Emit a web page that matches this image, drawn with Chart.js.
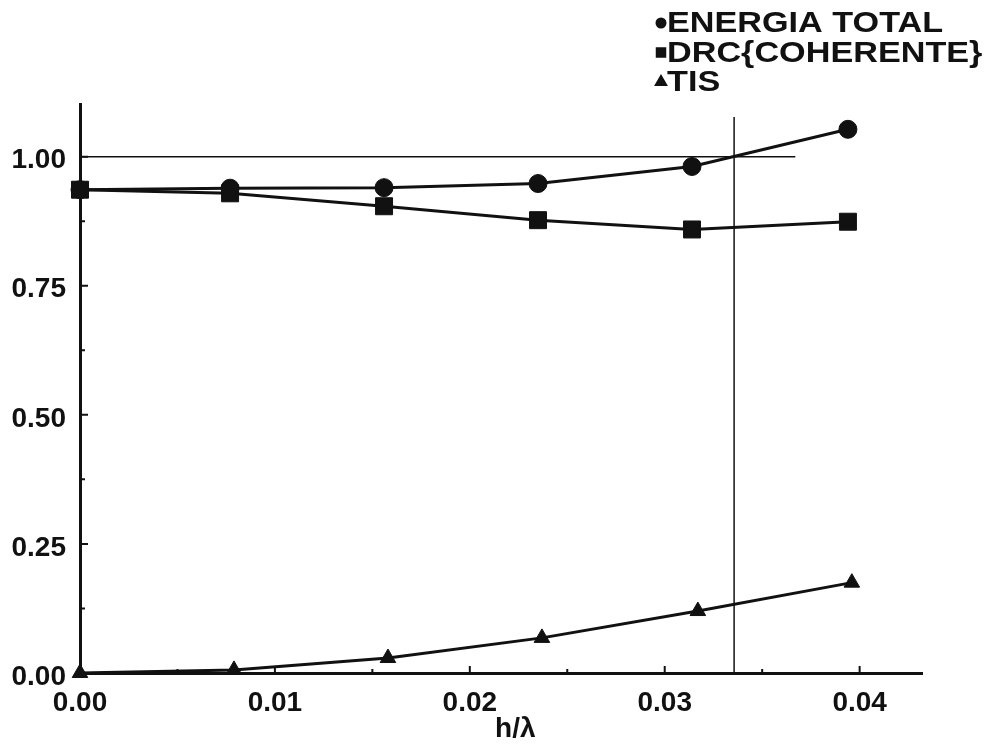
<!DOCTYPE html>
<html>
<head>
<meta charset="utf-8">
<title>h/λ</title>
<script src="https://cdn.jsdelivr.net/npm/chart.js@4/dist/chart.umd.min.js"></script>
<style>
  html, body { margin: 0; padding: 0; background: #fff; }
  #wrap { width: 1003px; height: 756px; }
</style>
</head>
<body>
<div id="wrap"><canvas id="curvaEnergia" width="1003" height="756"></canvas></div>
<script>
// valores h/lambda de cada medida
var hRatio = [0, 0.0077, 0.0156, 0.0235, 0.0314, 0.0394];
var hRatioTis = [0, 0.0079, 0.0158, 0.0237, 0.0317, 0.0396];

// series
var energiaTotal = [0.936, 0.939, 0.940, 0.948, 0.981, 1.053];
var drcCoherente = [0.936, 0.929, 0.904, 0.877, 0.859, 0.874];
var tis = [0, 0.006, 0.029, 0.068, 0.120, 0.175];

// linhas de referencia (nivel 1.00 e corte vertical)
var nivelUm = [[0, 1.0], [0.0367, 1.0]];
var corteVertical = [[0.03356, 0], [0.03356, 1.077]];

// eixos
var xTicks = [0, 0.01, 0.02, 0.03, 0.04];
var yTicks = [0, 0.25, 0.5, 0.75, 1.0];
var xMinor = [0.005, 0.015, 0.025, 0.035];
var yMinor = [0.125, 0.375, 0.625, 0.875];
var xTitulo = "h/λ";

var legendNames = ["ENERGIA TOTAL", "DRC{COHERENTE}", "TIS"];
var legendStyles = ["circle", "rect", "triangle"];

var INK = "#111";
var FONT = "'Liberation Sans', Arial, sans-serif";

function pares(xs, ys) {
    return xs.map(function (x, i) { return { x: x, y: ys[i] }; });
}
function pontos(list) {
    return list.map(function (p) { return { x: p[0], y: p[1] }; });
}

// tracinhos para dentro do grafico + titulo do eixo x + legenda
var extrasPlugin = {
    id: "extras",
    afterDatasetsDraw: function (chart) {
        var ctx = chart.ctx;
        var xs = chart.scales.x, ys = chart.scales.y;
        var area = chart.chartArea;
        ctx.save();
        ctx.strokeStyle = INK;
        ctx.lineWidth = 2;
        ctx.beginPath();
        xTicks.forEach(function (v) {
            var px = xs.getPixelForValue(v);
            ctx.moveTo(px, area.bottom); ctx.lineTo(px, area.bottom - 7);
        });
        xMinor.forEach(function (v) {
            var px = xs.getPixelForValue(v);
            ctx.moveTo(px, area.bottom); ctx.lineTo(px, area.bottom - 4);
        });
        yTicks.forEach(function (v) {
            var py = ys.getPixelForValue(v);
            ctx.moveTo(area.left, py); ctx.lineTo(area.left + 8, py);
        });
        yMinor.forEach(function (v) {
            var py = ys.getPixelForValue(v);
            ctx.moveTo(area.left, py); ctx.lineTo(area.left + 5, py);
        });
        ctx.stroke();

        // titulo do eixo x
        ctx.fillStyle = INK;
        ctx.font = "bold 28px " + FONT;
        ctx.textAlign = "center";
        ctx.textBaseline = "middle";
        ctx.fillText(xTitulo, area.left + (area.right - area.left) * 0.517, 729);

        // legenda no canto superior direito
        ctx.textAlign = "left";
        ctx.font = "bold 30px " + FONT;
        legendNames.forEach(function (name, i) {
            var cy = 23 + i * 29.5;
            Chart.helpers.drawPoint(ctx, {
                pointStyle: legendStyles[i], radius: i === 0 ? 4.5 : 6,
                rotation: 0, borderWidth: 1
            }, 661, cy);
            ctx.fill();
            ctx.save();
            ctx.translate(667, cy + 1);
            ctx.scale(1.14, 1);
            ctx.fillText(name, 0, 0);
            ctx.restore();
        });
        ctx.restore();
    }
};

function serie(label, data, style, radius) {
    return {
        label: label,
        data: data,
        showLine: true,
        borderColor: INK,
        borderWidth: 3,
        backgroundColor: INK,
        pointStyle: style,
        pointRadius: radius,
        pointHoverRadius: radius,
        pointBackgroundColor: INK,
        pointBorderColor: INK,
        pointBorderWidth: 1,
        tension: 0,
        clip: false
    };
}

function referencia(data) {
    return {
        data: data,
        showLine: true,
        borderColor: INK,
        borderWidth: 1.5,
        pointRadius: 0,
        pointHoverRadius: 0,
        tension: 0,
        clip: false
    };
}

var ctx = document.getElementById("curvaEnergia").getContext("2d");
var curvaEnergia = new Chart(ctx, {
    type: "scatter",
    data: {
        datasets: [
            serie(legendNames[0], pares(hRatio, energiaTotal), "circle", 9),
            serie(legendNames[1], pares(hRatio, drcCoherente), "rect", 12),
            serie(legendNames[2], pares(hRatioTis, tis), "triangle", 9),
            referencia(pontos(nivelUm)),
            referencia(pontos(corteVertical))
        ]
    },
    options: {
        responsive: false,
        animation: false,
        events: [],
        layout: { padding: { top: 104, right: 81, left: 0, bottom: 0 } },
        plugins: {
            legend: { display: false },
            tooltip: { enabled: false }
        },
        scales: {
            x: {
                type: "linear",
                min: 0,
                max: 0.0432,
                afterBuildTicks: function (scale) {
                    scale.ticks = xTicks.map(function (v) { return { value: v }; });
                },
                afterFit: function (scale) { scale.height = 83; },
                grid: { display: false, drawTicks: false },
                border: { display: true, width: 3, color: INK },
                ticks: {
                    autoSkip: false,
                    maxRotation: 0,
                    padding: 13,
                    color: INK,
                    font: { family: FONT, size: 28, weight: "bold" },
                    callback: function (v) { return Number(v).toFixed(2); }
                }
            },
            y: {
                type: "linear",
                min: 0,
                max: 1.102,
                afterBuildTicks: function (scale) {
                    scale.ticks = yTicks.map(function (v) { return { value: v }; });
                },
                afterFit: function (scale) { scale.width = 80; },
                grid: { display: false, drawTicks: false },
                border: { display: true, width: 3, color: INK },
                ticks: {
                    autoSkip: false,
                    padding: 14,
                    labelOffset: 4,
                    color: INK,
                    font: { family: FONT, size: 28, weight: "bold" },
                    callback: function (v) { return Number(v).toFixed(2); }
                }
            }
        }
    },
    plugins: [extrasPlugin]
});
console.log("chart pronto", curvaEnergia.chartArea);
</script>
</body>
</html>
